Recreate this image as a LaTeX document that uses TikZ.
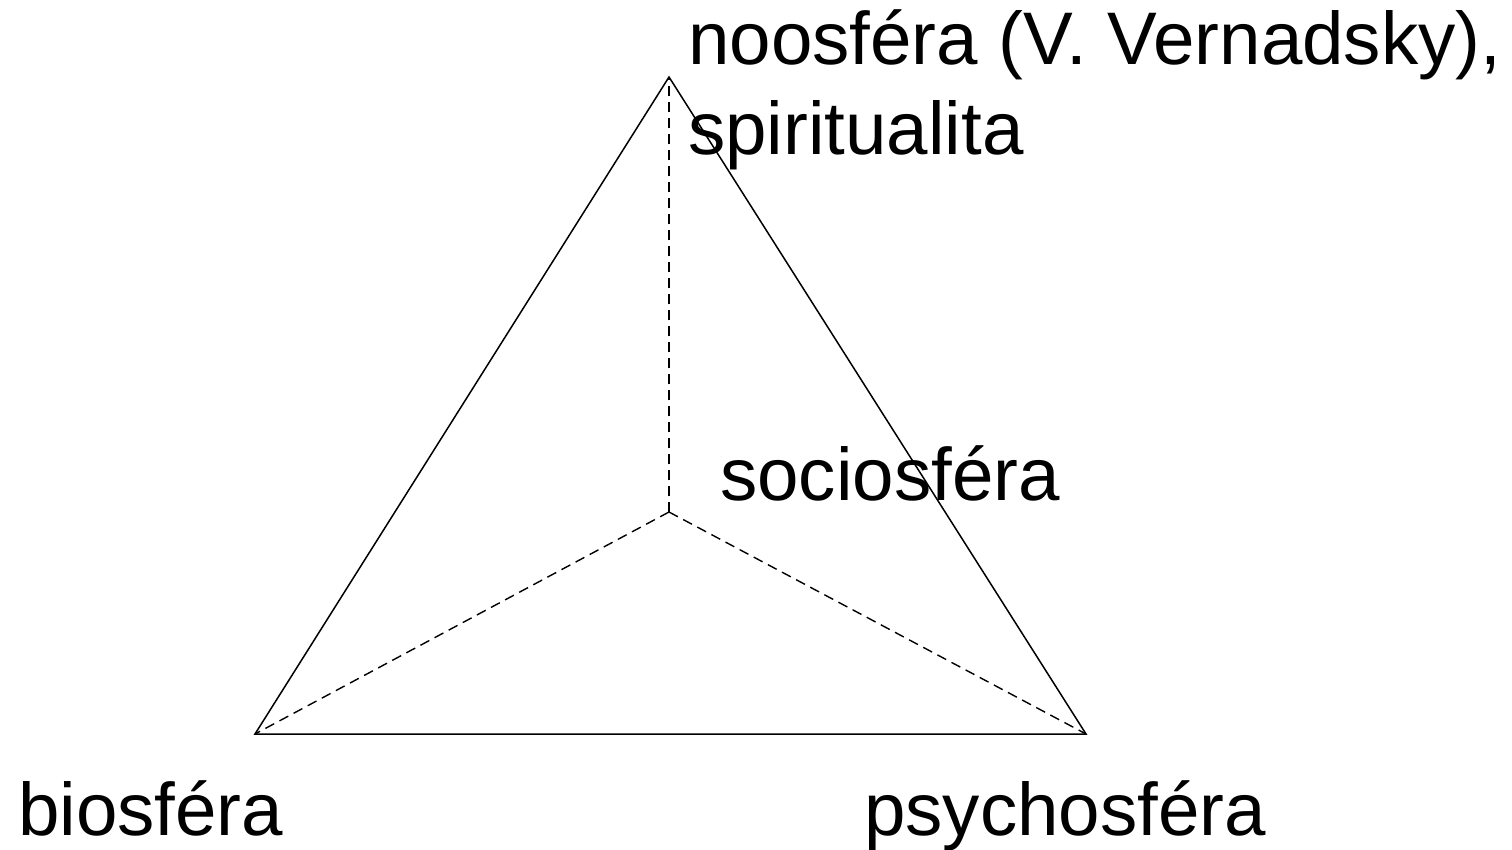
\documentclass[tikz,border=0pt]{standalone}
\usepackage{fontspec}
\setmainfont{Liberation Sans}
\begin{document}
\begin{tikzpicture}[x=1pt,y=-1pt,
  lbl/.style={anchor=base west,inner sep=0pt,font=\fontsize{74.5}{86}\selectfont},
  edge/.style={line width=1.5pt},
  hid/.style={line width=1.4pt,dash pattern=on 10pt off 6pt}]
\useasboundingbox (0,0) rectangle (1512,850);
\coordinate (T) at (669,77);
\coordinate (L) at (255,734);
\coordinate (R) at (1086,734);
\coordinate (C) at (669,512);
\draw[edge,line join=miter] (T) -- (L) -- (R) -- cycle;
\draw[hid] (C) -- (T);
\draw[hid] (C) -- (L);
\draw[hid] (C) -- (R);
\node[lbl] (noo) at (688,65) {noosféra (V. Vernadsky),};
\node[lbl] (spi) at (688,155) {spiritualita};
\node[lbl] (soc) at (720,500) {sociosféra};
\node[lbl] (bio) at (18,835) {biosféra};
\node[lbl] (psy) at (864,835) {psychosféra};
\end{tikzpicture}
\end{document}
